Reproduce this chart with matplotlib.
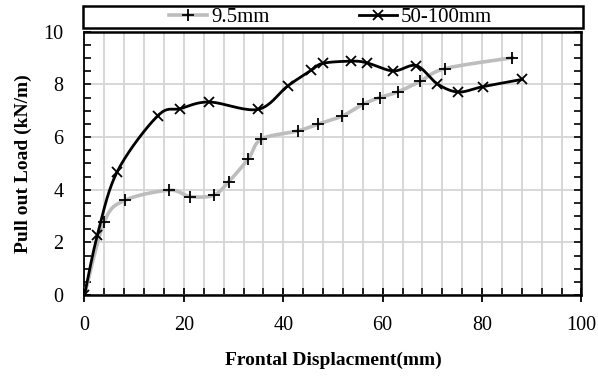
import numpy as np
import matplotlib.pyplot as plt
from matplotlib.ticker import MultipleLocator
from matplotlib.lines import Line2D
from matplotlib.patches import Rectangle

# pull-out test results
disp_small = [0, 4.0, 8.2, 17.1, 21.2, 26.0, 29.0, 33.0, 35.6, 42.9, 47.0,
              51.9, 56.0, 59.4, 63.0, 67.6, 72.6, 86.1]
load_small = [0, 2.79, 3.60, 3.98, 3.74, 3.79, 4.30, 5.18, 5.92, 6.23, 6.49,
              6.80, 7.24, 7.50, 7.71, 8.12, 8.60, 9.01]

disp_large = [0, 2.6, 6.6, 14.7, 19.3, 25.1, 34.9, 40.9, 45.6, 48.0, 53.7,
              56.8, 62.1, 66.8, 71.0, 75.2, 80.1, 88.1]
load_large = [0, 2.28, 4.69, 6.80, 7.08, 7.33, 7.05, 7.94, 8.53, 8.80, 8.88,
              8.82, 8.51, 8.71, 8.02, 7.71, 7.91, 8.19]

labels = ["9.5mm", "50-100mm"]

plt.rcParams['font.family'] = ['Liberation Serif', 'DejaVu Serif']


def smooth(x, y, n=20):
    """Catmull-Rom curve through the points (spreadsheet-style smoothed line)."""
    p = np.column_stack([x, y]).astype(float)
    p = np.vstack([p[0], p, p[-1]])
    t = np.linspace(0, 1, n)[:, None]
    segs = []
    for i in range(1, len(p) - 2):
        p0, p1, p2, p3 = p[i - 1], p[i], p[i + 1], p[i + 2]
        seg = 0.5 * ((2 * p1) + (-p0 + p2) * t
                     + (2 * p0 - 5 * p1 + 4 * p2 - p3) * t ** 2
                     + (-p0 + 3 * p1 - 3 * p2 + p3) * t ** 3)
        segs.append(seg)
    c = np.vstack(segs)
    return c[:, 0], c[:, 1]


fig = plt.figure(figsize=(5.98, 3.76), dpi=100)
ax = fig.add_axes([0.1413, 0.2154, 0.831, 0.7003])

gray = '#bdbdbd'
sx, sy = smooth(disp_small, load_small)
ax.plot(sx, sy, color=gray, lw=2.6, zorder=3)
ax.plot(disp_small, load_small, ls='none', marker='+', ms=9, mew=1.3,
        color='black', zorder=4)

bx, by = smooth(disp_large, load_large)
ax.plot(bx, by, color='black', lw=2.0, zorder=5)
ax.plot(disp_large, load_large, ls='none', marker='x', ms=7, mew=1.3,
        color='black', zorder=6)

ax.set_xlim(0, 100)
ax.set_ylim(0, 10)
ax.xaxis.set_major_locator(MultipleLocator(20))
ax.xaxis.set_minor_locator(MultipleLocator(4))
ax.yaxis.set_major_locator(MultipleLocator(2))
ax.yaxis.set_minor_locator(MultipleLocator(0.5))

ax.grid(True, axis='x', which='both', color='#d4d4d4', lw=1.3, zorder=0)
ax.grid(True, axis='y', which='major', color='#d4d4d4', lw=1.3, zorder=0)

ax.tick_params(axis='x', which='major', direction='inout', length=10,
               width=1.3, labelsize=14.5, pad=10)
ax.tick_params(axis='x', which='minor', direction='in', length=5, width=1.2)
ax.tick_params(axis='y', which='both', direction='in', left=True, right=True,
               width=1.2, labelsize=14.5)
ax.tick_params(axis='y', which='major', length=5, pad=15)
ax.tick_params(axis='y', which='minor', length=5)

for side in ['top', 'right', 'bottom']:
    ax.spines[side].set_linewidth(1.8)
ax.spines['left'].set_linewidth(1.3)

ax.set_xlabel("Frontal Displacment(mm)", fontsize=14, fontweight='bold',
              labelpad=12)
ax.set_ylabel("Pull out Load (kN/m)", fontsize=14, fontweight='bold',
              labelpad=8)

# legend strip above the plot area
fig.add_artist(Rectangle((0.1383, 0.9247), 0.836, 0.0593,
                         transform=fig.transFigure, fill=False,
                         edgecolor='black', lw=1.8))
handles = [
    Line2D([], [], color=gray, lw=2.6, marker='+', ms=9, mew=1.3,
           markeredgecolor='black'),
    Line2D([], [], color='black', lw=2.0, marker='x', ms=7, mew=1.3),
]
fig.legend(handles, labels, ncol=2, loc='center',
           bbox_to_anchor=(0.553, 0.9543), frameon=False,
           fontsize=15, handlelength=1.8, handletextpad=0.2,
           borderpad=0, columnspacing=4.3)

fig.savefig("out.png", dpi=100)
